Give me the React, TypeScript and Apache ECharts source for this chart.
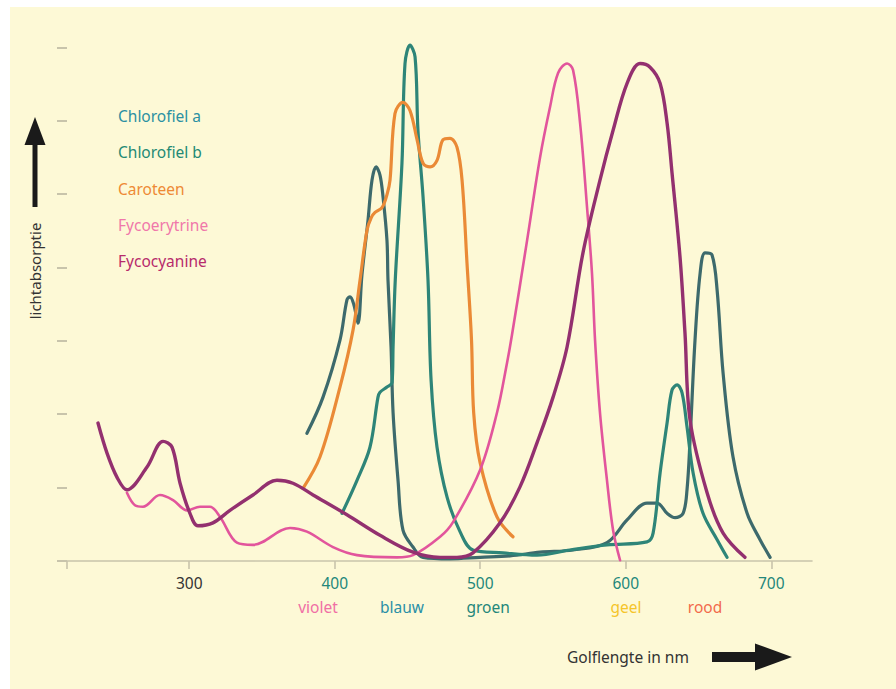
import React, { useEffect, useRef } from "react";
import * as echarts from "echarts";

// ---- data (wavelength in nm, relative absorption) ----
const seriesNames = ["Chlorofiel a", "Chlorofiel b", "Caroteen", "Fycoerytrine", "Fycocyanine"];

const chlorofielA: number[][] = [
  [380.9, 1.74], [391.9, 2.23], [403.6, 3.01], [408.4, 3.56], [410.5, 3.6], [413.2, 3.49], [416.0, 3.24],
  [418.7, 3.9], [422.9, 4.65], [425.6, 5.19], [428.4, 5.37], [431.1, 5.26], [433.2, 4.96], [435.9, 4.37],
  [436.6, 3.83], [438.7, 2.92], [440.1, 2.02], [443.5, 1.1], [446.9, 0.42], [453.8, 0.19], [460.7, 0.05],
  [479.2, 0.03], [499.9, 0.05], [520.5, 0.07], [541.1, 0.12], [563.8, 0.15], [587.1, 0.25], [600.9, 0.56],
  [614.6, 0.79], [621.5, 0.79], [628.4, 0.65], [633.9, 0.59], [639.4, 0.65], [642.1, 0.97], [644.2, 1.65],
  [647.6, 3.01], [651.1, 3.92], [654.5, 4.2], [659.3, 4.17], [662.8, 3.69], [666.9, 2.56], [673.7, 1.42],
  [683.4, 0.65], [692.3, 0.29], [699.2, 0.05],
];

const chlorofielB: number[][] = [
  [405.0, 0.65], [415.3, 1.1], [424.2, 1.55], [429.7, 2.23], [431.1, 2.3], [435.9, 2.37], [439.4, 2.43],
  [440.1, 2.92], [441.6, 3.83], [446.2, 5.42], [448.3, 6.78], [451.7, 7.03], [455.2, 6.87], [457.2, 5.87],
  [460.7, 4.96], [464.1, 3.83], [466.2, 2.47], [470.3, 1.55], [477.2, 0.87], [486.1, 0.4], [495.0, 0.15],
  [515.7, 0.11], [539.0, 0.08], [561.7, 0.15], [587.1, 0.22], [614.6, 0.26], [618.8, 0.38], [623.6, 1.2],
  [628.4, 1.88], [631.8, 2.33], [635.3, 2.4], [638.7, 2.29], [642.1, 1.83], [646.3, 1.2], [653.1, 0.65],
  [662.8, 0.29], [669.6, 0.05],
];

const caroteen: number[][] = [
  [378.2, 0.99], [389.9, 1.42], [403.6, 2.37], [412.6, 3.15], [417.4, 3.83], [422.2, 4.51], [425.1, 4.68],
  [427.7, 4.75], [432.6, 4.82], [436.0, 5.0], [438.0, 5.19], [441.4, 6.1], [446.9, 6.25], [451.7, 6.14],
  [456.6, 5.74], [460.7, 5.42], [465.5, 5.37], [470.3, 5.46], [474.4, 5.74], [479.2, 5.76], [484.0, 5.64],
  [487.5, 5.19], [490.9, 4.06], [494.0, 3.01], [495.5, 2.02], [499.9, 1.34], [511.5, 0.6], [522.5, 0.33],
];

const fycoerytrine: number[][] = [
  [257.2, 0.93], [262.7, 0.76], [268.2, 0.74], [279.9, 0.9], [288.9, 0.83], [298.5, 0.69], [307.4, 0.74],
  [314.3, 0.74], [321.2, 0.6], [332.8, 0.25], [343.8, 0.22], [369.3, 0.45], [380.9, 0.4], [398.8, 0.19],
  [415.3, 0.08], [442.8, 0.05], [453.8, 0.08], [472.4, 0.33], [481.3, 0.53], [499.9, 1.24], [511.5, 2.02],
  [518.4, 2.7], [521.8, 3.08], [532.2, 4.37], [541.1, 5.5], [548.0, 6.19], [553.5, 6.65], [559.7, 6.78],
  [563.8, 6.69], [568.6, 5.97], [573.4, 4.82], [576.8, 3.92], [578.9, 3.01], [582.3, 2.02], [587.1, 1.1],
  [591.3, 0.42], [596.1, 0.01],
];

const fycocyanine: number[][] = [
  [237.3, 1.88], [243.5, 1.47], [250.4, 1.14], [257.2, 0.97], [271.0, 1.28], [282.0, 1.63], [288.2, 1.55],
  [293.7, 1.06], [300.5, 0.65], [306.0, 0.48], [316.3, 0.52], [328.0, 0.69], [343.8, 0.9], [360.3, 1.1],
  [371.3, 1.06], [385.1, 0.9], [408.4, 0.63], [431.1, 0.35], [453.8, 0.12], [472.4, 0.05], [484.0, 0.05],
  [495.0, 0.11], [513.6, 0.52], [527.3, 1.01], [539.0, 1.61], [550.0, 2.23], [559.7, 2.92], [570.6, 4.2],
  [582.3, 5.19], [591.3, 5.87], [600.9, 6.51], [609.8, 6.78], [616.7, 6.73], [623.6, 6.51], [628.4, 5.97],
  [631.8, 5.29], [637.3, 4.14], [640.7, 3.11], [644.2, 1.92], [655.9, 0.93], [666.9, 0.38], [681.9, 0.05],
];

const tickValues = [300, 400, 500, 600, 700];
const tickLabelColors = ["#333333", "#23877a", "#23877a", "#23877a", "#23877a"];
const bandNames = ["violet", "blauw", "groen", "geel", "rood"];
const bandCenters = [388.5, 446.2, 505.4, 600.2, 654.5];
const yTicks = [0, 1, 2, 3, 4, 5, 6, 7];

// ---- styles ----
const lineColors = ["#3d6a6c", "#2e8578", "#ea8a36", "#e2559c", "#93306f"];
const legendColors = ["#2a90a2", "#248a74", "#ee8a35", "#f077aa", "#b72b6c"];
const lineWidths = [3.2, 3.2, 3.2, 2.6, 3.4];
const bandColors = ["#f06fa5", "#2a90a6", "#23877a", "#f5c52a", "#f26a4b"];
const FONT = "Noto Sans";
const GRAY = "#c8c4ab";

function tickColor(v: any, idx: number): string {
  const n = Number(v);
  let i = tickValues.indexOf(n);
  if (i < 0 && typeof idx === "number" && idx >= 0 && idx < tickValues.length) i = idx;
  return i >= 0 ? tickLabelColors[i] : "#23877a";
}

function bandIndex(v: any, idx?: number): number {
  const s = String(v);
  let i = bandNames.indexOf(s);
  if (i < 0) {
    const n = Number(v);
    i = bandCenters.findIndex((c) => Math.abs(c - n) < 0.01);
  }
  if (i < 0 && typeof idx === "number" && idx >= 0 && idx < bandNames.length) i = idx;
  return i;
}

export default function App() {
  const ref = useRef<HTMLDivElement>(null);

  useEffect(() => {
    if (!ref.current) return;
    const chart = echarts.init(ref.current, null, { renderer: "svg" });
    const allData = [chlorofielA, chlorofielB, caroteen, fycoerytrine, fycocyanine];

    chart.setOption({
      animation: false,
      backgroundColor: "#ffffff",
      textStyle: { fontFamily: FONT },
      grid: { left: 67, right: 84, top: 7, bottom: 128, containLabel: false },
      legend: {
        orient: "vertical",
        left: 108,
        top: 103,
        icon: "none",
        itemWidth: 0,
        itemHeight: 16,
        itemGap: 20.3,
        selectedMode: false,
        data: seriesNames.map((n, i) => ({
          name: n,
          textStyle: { color: legendColors[i], fontSize: 15.5, fontFamily: FONT },
        })),
      },
      xAxis: [
        {
          type: "value",
          min: 216,
          max: 728,
          splitLine: { show: false },
          axisLine: { show: true, lineStyle: { color: GRAY, width: 1.6 } },
          axisTick: {
            show: true,
            length: 8,
            customValues: [216, ...tickValues],
            lineStyle: { color: GRAY, width: 1.6 },
          },
          axisLabel: {
            customValues: tickValues,
            margin: 14,
            fontSize: 15.5,
            fontFamily: FONT,
            color: tickColor,
          },
        },
        {
          type: "value",
          position: "bottom",
          offset: 24,
          min: 216,
          max: 728,
          splitLine: { show: false },
          axisLine: { show: false },
          axisTick: { show: false },
          axisLabel: {
            customValues: bandCenters,
            margin: 14,
            fontSize: 15.5,
            fontFamily: FONT,
            formatter: (v: number) => {
              const i = bandIndex(v);
              return i >= 0 ? bandNames[i] : "";
            },
            color: (v: any, idx: number) => {
              const i = bandIndex(v, idx);
              return i >= 0 ? bandColors[i] : "#333";
            },
          },
        },
      ],
      yAxis: {
        type: "value",
        min: 0,
        max: 7.55,
        splitLine: { show: false },
        axisLine: {
          show: true,
          lineStyle: { color: GRAY, width: 3, shadowColor: "rgba(150,140,110,0.35)", shadowBlur: 3 },
        },
        axisTick: {
          show: true,
          length: 10,
          customValues: yTicks,
          lineStyle: { color: GRAY, width: 2 },
        },
        axisLabel: { show: false },
      },
      graphic: [
        { type: "rect", z: -100, shape: { x: 10, y: 7, width: 886, height: 682 }, style: { fill: "#fdf9d6" } },
        {
          type: "text",
          x: 35,
          y: 271,
          rotation: Math.PI / 2,
          style: {
            text: "lichtabsorptie",
            fill: "#333333",
            font: `15px "${FONT}"`,
            textAlign: "center",
            textVerticalAlign: "middle",
          },
        },
        { type: "rect", shape: { x: 32.5, y: 140, width: 5, height: 67 }, style: { fill: "#1a1a1a" } },
        { type: "polygon", shape: { points: [[35, 117], [24.5, 145], [45.5, 145]] }, style: { fill: "#1a1a1a" } },
        {
          type: "text",
          x: 567,
          y: 657,
          style: {
            text: "Golflengte in nm",
            fill: "#333333",
            font: `15.5px "${FONT}"`,
            textAlign: "left",
            textVerticalAlign: "middle",
          },
        },
        { type: "rect", shape: { x: 712, y: 652, width: 46, height: 10 }, style: { fill: "#1a1a1a" } },
        { type: "polygon", shape: { points: [[755, 643.5], [792, 657], [755, 670.5]] }, style: { fill: "#1a1a1a" } },
      ],
      series: allData.map((d, i) => ({
        name: seriesNames[i],
        type: "line",
        data: d,
        smooth: 0.35,
        showSymbol: false,
        symbol: "none",
        color: lineColors[i],
        lineStyle: { color: lineColors[i], width: lineWidths[i], cap: "round", join: "round" },
        z: 3 + i,
      })),
    });

    return () => chart.dispose();
  }, []);

  return (
    <div
      ref={ref}
      style={{ position: "fixed", left: 0, top: 0, width: 896, height: 689 }}
    />
  );
}
